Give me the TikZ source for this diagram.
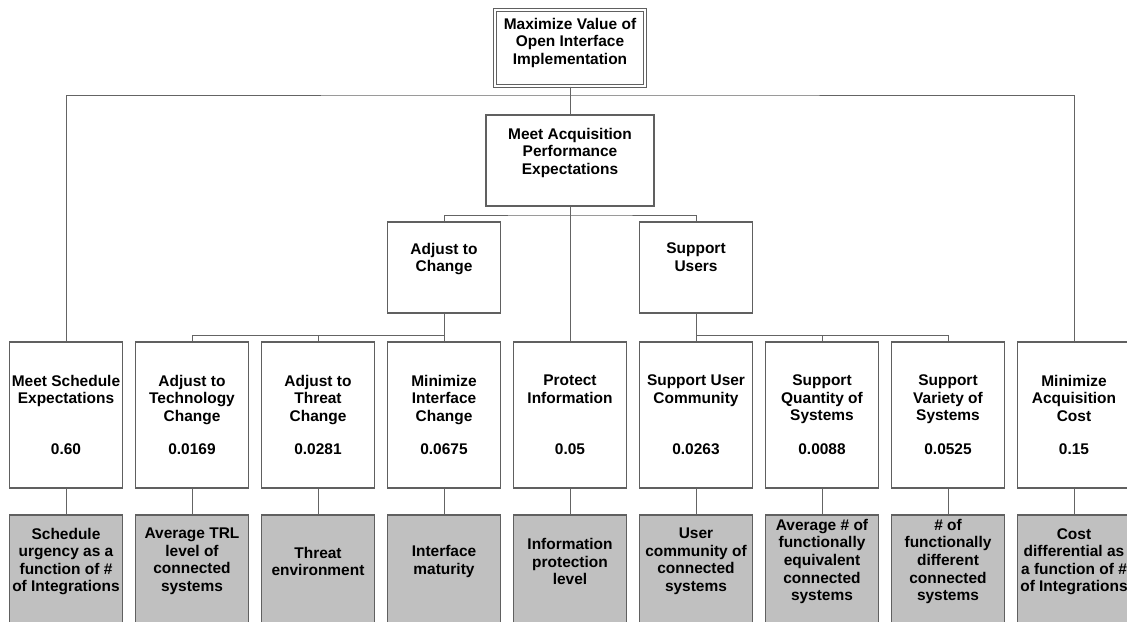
\documentclass[tikz,border=0pt]{standalone}
\usepackage{fontspec}
\setmainfont{Liberation Sans}
\usepackage{tikz}
\usetikzlibrary{positioning,calc}
\usepackage{xcolor}
\definecolor{boxgray}{RGB}{96,96,96}
\definecolor{linegray}{RGB}{100,100,100}
\definecolor{measgray}{RGB}{192,192,192}
\newcommand{\uptext}[3]{\parbox[c][#2][t]{#1}{\centering #3}}
\newcommand{\objtext}[2]{\parbox[c][2cm][s]{2.8cm}{\centering #1\par\vfill #2}}
\newcommand{\meastext}[1]{\parbox[c][3.125cm][c]{2.8cm}{\centering #1\par\vspace{0.8cm}}}

\begin{document}
\begin{tikzpicture}[
    x=0.025cm, y=-0.025cm,
    goal/.style={rectangle, draw=boxgray, line width=0.8pt, fill=white,
        inner sep=0pt, font=\fontsize{11}{12.45}\selectfont\bfseries},
    topgoal/.style={goal, line width=0.9pt, double=white, double distance=1.6pt,
        minimum width=3.75cm, minimum height=1.9cm},
    subgoal/.style={goal, minimum width=2.825cm, minimum height=2.275cm},
    objbox/.style={goal, minimum width=2.825cm, minimum height=3.65cm},
    measbox/.style={goal, fill=measgray, minimum width=2.825cm, minimum height=3.125cm},
    link/.style={draw=linegray, line width=0.7pt}
]
    \useasboundingbox (0,0) rectangle (1127,621);
    \clip (0,0) rectangle (1127,621);

    % Top goal and first level
    \node[topgoal] (top) at (570,48) {\uptext{3.6cm}{1.5cm}{Maximize Value of\\Open Interface\\Implementation}};
    \node[subgoal, minimum width=4.2cm] (perf) at (570,160.5) {\uptext{4cm}{1.625cm}{Meet Acquisition\\Performance\\Expectations}};
    \node[subgoal] (chg) at (444,267.5) {\uptext{2.7cm}{1.225cm}{Adjust to\\Change}};
    \node[subgoal] (usr) at (696,267.5) {\uptext{2.7cm}{1.225cm}{Support\\Users}};

    % Objectives with weights
    \node[objbox] (sched) at (66,415) {\objtext{Meet Schedule\\Expectations}{0.60}};
    \node[objbox] (tech) at (192,415) {\objtext{Adjust to\\Technology\\Change}{0.0169}};
    \node[objbox] (threat) at (318,415) {\objtext{Adjust to\\Threat\\Change}{0.0281}};
    \node[objbox] (intf) at (444,415) {\objtext{Minimize\\Interface\\Change}{0.0675}};
    \node[objbox] (prot) at (570,415) {\objtext{Protect\\Information}{0.05}};
    \node[objbox] (comm) at (696,415) {\objtext{Support User\\Community}{0.0263}};
    \node[objbox] (qty) at (822,415) {\objtext{Support\\Quantity of\\Systems}{0.0088}};
    \node[objbox] (var) at (948,415) {\objtext{Support\\Variety of\\Systems}{0.0525}};
    \node[objbox] (cost) at (1074,415) {\objtext{Minimize\\Acquisition\\Cost}{0.15}};

    % Measures
    \node[measbox] (msched) at (66,577.5) {\meastext{Schedule\\urgency as a\\function of \#\\of Integrations}};
    \node[measbox] (mtech) at (192,577.5) {\meastext{Average TRL\\level of\\connected\\systems}};
    \node[measbox] (mthreat) at (318,577.5) {\meastext{Threat\\environment}};
    \node[measbox] (mintf) at (444,577.5) {\meastext{Interface\\maturity}};
    \node[measbox] (mprot) at (570,577.5) {\meastext{Information\\protection\\level}};
    \node[measbox] (mcomm) at (696,577.5) {\meastext{User\\community of\\connected\\systems}};
    \node[measbox] (mqty) at (822,577.5) {\meastext{Average \# of\\functionally\\equivalent\\connected\\systems}};
    \node[measbox] (mvar) at (948,577.5) {\meastext{\# of\\functionally\\different\\connected\\systems}};
    \node[measbox] (mcost) at (1074,577.5) {\meastext{Cost\\differential as\\a function of \#\\of Integrations}};

    % Tree connectors
    \coordinate (busA) at (570,95);
    \coordinate (busB) at (570,215);
    \coordinate (busC) at (444,335);
    \coordinate (busD) at (696,335);
    \draw[link] (top.south) -- (perf.north);
    \draw[link] (sched.north) |- (busA) -| (cost.north);
    \draw[link] (chg.north) |- (busB) -| (usr.north);
    \draw[link] (perf.south) -- (prot.north);
    \draw[link] (tech.north) |- (busC);
    \draw[link] (threat.north) -- (threat.north |- busC);
    \draw[link] (chg.south) -- (intf.north);
    \draw[link] (var.north) |- (busD);
    \draw[link] (qty.north) -- (qty.north |- busD);
    \draw[link] (usr.south) -- (comm.north);

    % Objectives to measures
    \draw[link] (sched.south) -- (msched.north);
    \draw[link] (tech.south) -- (mtech.north);
    \draw[link] (threat.south) -- (mthreat.north);
    \draw[link] (intf.south) -- (mintf.north);
    \draw[link] (prot.south) -- (mprot.north);
    \draw[link] (comm.south) -- (mcomm.north);
    \draw[link] (qty.south) -- (mqty.north);
    \draw[link] (var.south) -- (mvar.north);
    \draw[link] (cost.south) -- (mcost.north);
\end{tikzpicture}
\end{document}
